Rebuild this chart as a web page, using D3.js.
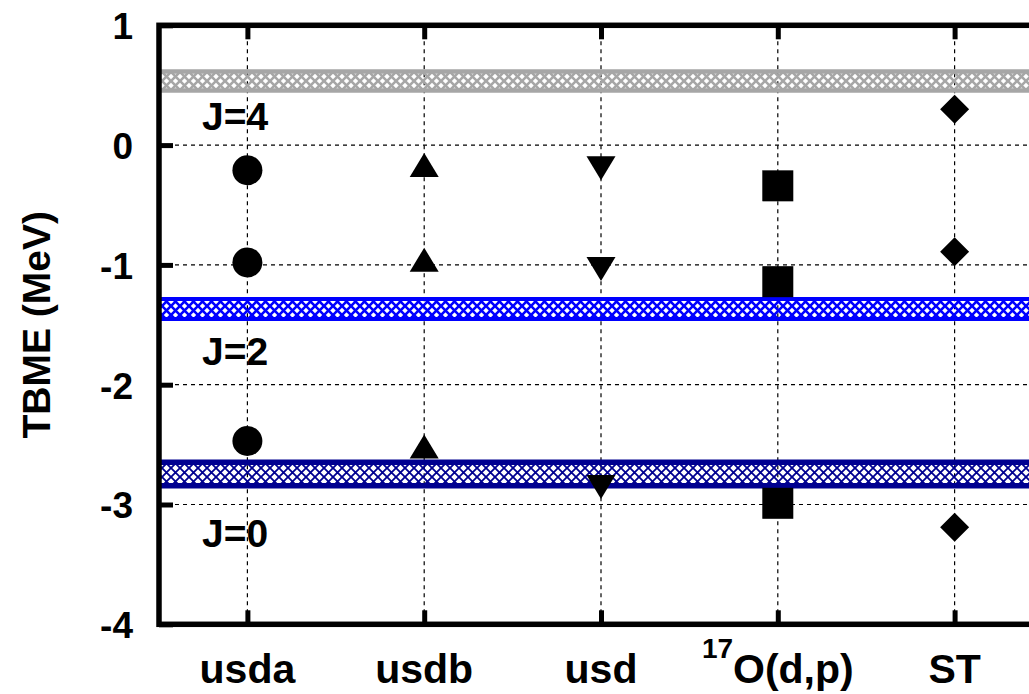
<!DOCTYPE html>
<html>
<head>
<meta charset="utf-8">
<script src="https://cdn.jsdelivr.net/npm/d3@7/dist/d3.min.js"></script>
<style>
  html, body { margin: 0; padding: 0; background: #fff; }
  svg { display: block; font-family: "Liberation Sans", Arial, sans-serif; font-weight: bold; }
</style>
</head>
<body>
<svg id="chart" width="1029" height="694"></svg>
<script>
// Shell-model interactions / sources along x
const categories = ["usda", "usdb", "usd", "17O(d,p)", "ST"];
const markerShapes = ["circle", "triangleUp", "triangleDown", "square", "diamond"];

// Two-body matrix elements (MeV) for each J
const tbmeJ4 = [-0.21, -0.20, -0.16, -0.34, 0.30];
const tbmeJ2 = [-0.98, -0.99, -1.00, -1.14, -0.89];
const tbmeJ0 = [-2.47, -2.55, -2.82, -2.99, -3.19];

// Reference bands [lower, upper] (MeV)
const bandJ4 = [0.456, 0.614];
const bandJ2 = [-1.452, -1.284];
const bandJ0 = [-2.843, -2.648];
const bandLabels = ["J=4", "J=2", "J=0"];
const bandColors = ["#a6a6a6", "#0000ff", "#000090"];

const yTicks = [1, 0, -1, -2, -3, -4];
const yDomain = [-4, 1];

const svg = d3.select("#chart");
const plotLeft = 159, plotRight = 1043, plotTop = 25.3, plotBottom = 624.3;

const x = d3.scaleLinear().domain([0.5, categories.length + 0.5]).range([plotLeft, plotRight]);
const y = d3.scaleLinear().domain(yDomain).range([plotBottom, plotTop]);

// Cross-hatch patterns for the bands
const defs = svg.append("defs");
bandColors.forEach((c, i) => {
  const p = defs.append("pattern")
    .attr("id", "hatch" + i)
    .attr("patternUnits", "userSpaceOnUse")
    .attr("width", 9).attr("height", 9);
  p.append("path")
    .attr("d", "M-1,-1L10,10M-1,10L10,-1")
    .attr("stroke", c)
    .attr("stroke-width", i === 2 ? 1.8 : 2.6)
    .attr("fill", "none");
});

// Dashed grid
const grid = svg.append("g").attr("stroke", "#000").attr("stroke-width", 1.2).attr("stroke-dasharray", "4,4");
grid.selectAll("line.h").data(yTicks.filter(v => v > yDomain[0] && v < yDomain[1])).join("line")
  .attr("class", "h")
  .attr("x1", plotLeft).attr("x2", plotRight)
  .attr("y1", d => y(d)).attr("y2", d => y(d));
grid.selectAll("line.v").data(categories).join("line")
  .attr("class", "v")
  .attr("x1", (d, i) => x(i + 1)).attr("x2", (d, i) => x(i + 1))
  .attr("y1", plotTop).attr("y2", plotBottom);

// Bands
const bands = [bandJ4, bandJ2, bandJ0];
const bandWidths = [4.5, 4, 5.5];
const bandG = svg.append("g");
bands.forEach((b, i) => {
  bandG.append("rect")
    .attr("x", plotLeft).attr("width", plotRight - plotLeft)
    .attr("y", y(b[1])).attr("height", y(b[0]) - y(b[1]))
    .attr("fill", `url(#hatch${i})`);
  b.forEach(v => {
    bandG.append("line")
      .attr("x1", plotLeft).attr("x2", plotRight)
      .attr("y1", y(v)).attr("y2", y(v))
      .attr("stroke", bandColors[i]).attr("stroke-width", bandWidths[i]);
  });
});

// Band labels
const labelY = [130, 365, 547];
svg.append("g").selectAll("text").data(bandLabels).join("text")
  .attr("x", 202).attr("y", (d, i) => labelY[i])
  .attr("font-size", 39).attr("fill", "#000")
  .text(d => d);

// Markers
function markerPath(shape) {
  switch (shape) {
    case "circle": return "M15,0A15,15 0 1,1 -15,0A15,15 0 1,1 15,0Z";
    case "triangleUp": return "M0,-16L14.5,8L-14.5,8Z";
    case "triangleDown": return "M0,16L14.5,-8L-14.5,-8Z";
    case "square": return "M-15.5,-15.5H15.5V15.5H-15.5Z";
    case "diamond": return "M0,-14.5L14.5,0L0,14.5L-14.5,0Z";
  }
}
const points = [];
categories.forEach((c, i) => {
  [tbmeJ4[i], tbmeJ2[i], tbmeJ0[i]].forEach(v => points.push({ i, v, shape: markerShapes[i] }));
});
svg.append("g").selectAll("path").data(points).join("path")
  .attr("transform", d => `translate(${x(d.i + 1)},${y(d.v)})`)
  .attr("d", d => markerPath(d.shape))
  .attr("fill", "#000");

// Axes with inward ticks
const tickLen = 14;
const axisY = svg.append("g").attr("transform", `translate(${plotLeft},0)`)
  .call(d3.axisLeft(y).tickValues(yTicks).tickSize(-tickLen).tickPadding(26).tickFormat(d => String(d)));
const axisYR = svg.append("g").attr("transform", `translate(${plotRight},0)`)
  .call(d3.axisRight(y).tickValues(yTicks).tickSize(-tickLen).tickFormat(""));
const axisX = svg.append("g").attr("transform", `translate(0,${plotBottom})`)
  .call(d3.axisBottom(x).tickValues(d3.range(1, categories.length + 1)).tickSize(-tickLen).tickFormat(""));
const axisXT = svg.append("g").attr("transform", `translate(0,${plotTop})`)
  .call(d3.axisTop(x).tickValues(d3.range(1, categories.length + 1)).tickSize(-tickLen).tickFormat(""));
[axisY, axisYR, axisX, axisXT].forEach(a => {
  a.select(".domain").remove();
  a.selectAll(".tick line").attr("stroke", "#000").attr("stroke-width", 5);
});
axisY.selectAll(".tick text")
  .attr("font-size", 37).attr("font-family", "Liberation Sans, Arial, sans-serif")
  .attr("font-weight", "bold").attr("fill", "#000").attr("dy", "0.36em");

// Category labels (with isotope superscript)
const xl = svg.append("g").selectAll("text").data(categories).join("text")
  .attr("x", (d, i) => x(i + 1)).attr("y", 683)
  .attr("text-anchor", "middle").attr("font-size", 41).attr("fill", "#000");
xl.each(function (d) {
  const t = d3.select(this);
  const m = d.match(/^(\d+)(.*)$/);
  if (m) {
    t.append("tspan").attr("font-size", 28).attr("dy", -25).text(m[1]);
    t.append("tspan").attr("dy", 25).text(m[2]);
  } else {
    t.text(d);
  }
});

// Frame
svg.append("rect")
  .attr("x", plotLeft).attr("y", plotTop).attr("width", plotRight - plotLeft).attr("height", plotBottom - plotTop)
  .attr("fill", "none").attr("stroke", "#000").attr("stroke-width", 5.5);

// Y axis title
svg.append("text")
  .attr("transform", `translate(50,${(plotTop + plotBottom) / 2}) rotate(-90)`)
  .attr("text-anchor", "middle").attr("font-size", 39).attr("fill", "#000")
  .text("TBME (MeV)");
</script>
</body>
</html>
